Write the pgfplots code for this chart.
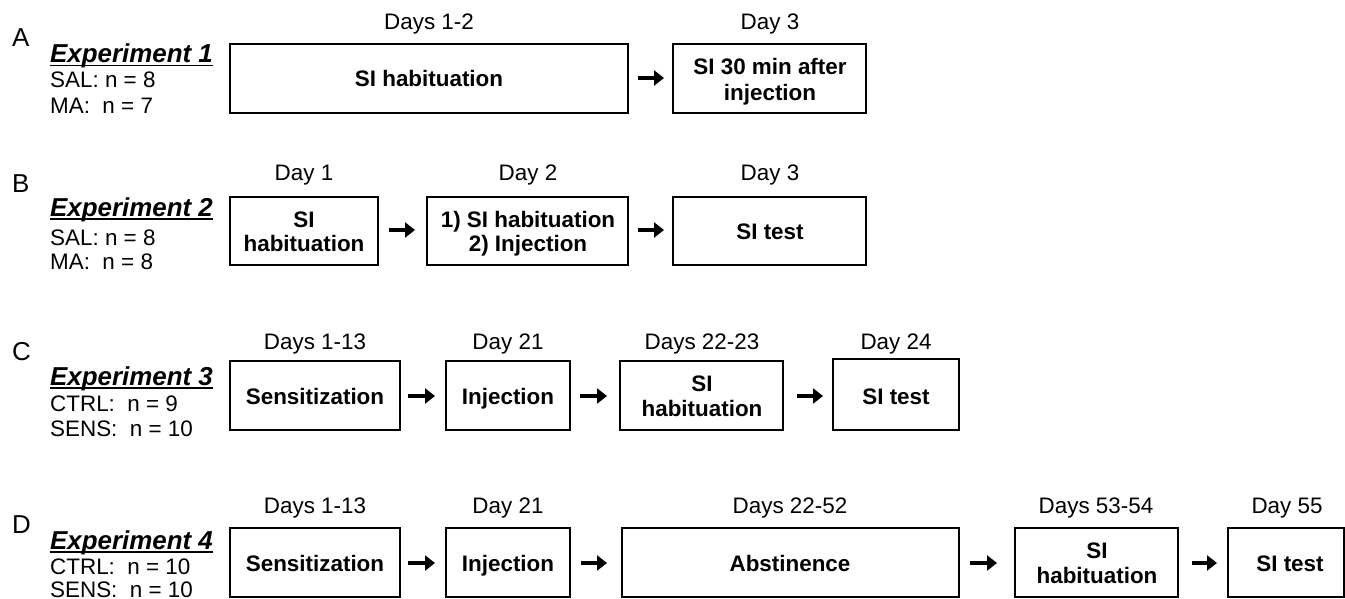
\documentclass[border=0pt]{standalone}
\usepackage{pgfplots}
\pgfplotsset{compat=1.18}
\usetikzlibrary{arrows.meta}
\usepackage{fontspec}
\setmainfont{Liberation Sans}
\newcommand\lab{\fontsize{22.5}{27}\selectfont}
\newcommand\bx{\fontsize{22.5}{27}\selectfont\bfseries}
\newcommand\hd{\fontsize{26}{30}\selectfont\bfseries\itshape}
\newcommand\ltr{\fontsize{26}{30}\selectfont}
\newcommand\ul[1]{\leavevmode\setbox0\hbox{#1}\rlap{\rule[-3.5bp]{\wd0}{1.8bp}}\box0}
\begin{document}
\begin{tikzpicture}
\begin{axis}[width=1345bp,height=599bp,scale only axis,
  xmin=0,xmax=1345,ymin=0,ymax=599,y dir=reverse,
  axis lines=none,clip=false,
  box/.style={black,line width=1.6bp,no marks},
  arr/.style={black,line width=3.6bp,no marks,-{Triangle[length=10bp,width=15bp]}}]
% ---------- Row A
\addplot[box] coordinates {(230,44)(628,44)(628,113)(230,113)} -- cycle;
\addplot[box] coordinates {(673,44)(866,44)(866,113)(673,113)} -- cycle;
\addplot[arr] coordinates {(638,78)(664,78)};
% ---------- Row B
\addplot[box] coordinates {(230,197)(378,197)(378,265)(230,265)} -- cycle;
\addplot[box] coordinates {(427,197)(628,197)(628,265)(427,265)} -- cycle;
\addplot[box] coordinates {(673,197)(866,197)(866,265)(673,265)} -- cycle;
\addplot[arr] coordinates {(389,230)(415,230)};
\addplot[arr] coordinates {(638,230)(664,230)};
% ---------- Row C
\addplot[box] coordinates {(230,361)(400,361)(400,430)(230,430)} -- cycle;
\addplot[box] coordinates {(446,361)(570,361)(570,430)(446,430)} -- cycle;
\addplot[box] coordinates {(620,361)(783,361)(783,430)(620,430)} -- cycle;
\addplot[box] coordinates {(833,359)(959,359)(959,430)(833,430)} -- cycle;
\addplot[arr] coordinates {(408,396)(435,396)};
\addplot[arr] coordinates {(580,396)(607,396)};
\addplot[arr] coordinates {(797,396)(823,396)};
% ---------- Row D
\addplot[box] coordinates {(230,528)(400,528)(400,597)(230,597)} -- cycle;
\addplot[box] coordinates {(446,528)(570,528)(570,597)(446,597)} -- cycle;
\addplot[box] coordinates {(622,528)(959,528)(959,597)(622,597)} -- cycle;
\addplot[box] coordinates {(1015,528)(1178,528)(1178,597)(1015,597)} -- cycle;
\addplot[box] coordinates {(1228,528)(1344,528)(1344,597)(1228,597)} -- cycle;
\addplot[arr] coordinates {(408,563)(435,563)};
\addplot[arr] coordinates {(581,563)(607,563)};
\addplot[arr] coordinates {(970,563)(997,563)};
\addplot[arr] coordinates {(1192,563)(1217,563)};
% ---------- left texts
\node[anchor=base west,inner sep=0] at (12,47) {\ltr A};
\node[anchor=base west,inner sep=0] at (50,63) {\hd\ul{Experiment 1}};
\node[anchor=base west,inner sep=0] at (50,88) {\lab SAL: n = 8};
\node[anchor=base west,inner sep=0] at (50,113) {\lab MA:\ \ n = 7};
\node[anchor=base west,inner sep=0] at (12,192) {\ltr B};
\node[anchor=base west,inner sep=0] at (50,216) {\hd\ul{Experiment 2}};
\node[anchor=base west,inner sep=0] at (50,245) {\lab SAL: n = 8};
\node[anchor=base west,inner sep=0] at (50,269) {\lab MA:\ \ n = 8};
\node[anchor=base west,inner sep=0] at (12,360) {\ltr C};
\node[anchor=base west,inner sep=0] at (50,385) {\hd\ul{Experiment 3}};
\node[anchor=base west,inner sep=0] at (50,411) {\lab CTRL:\ \ n = 9};
\node[anchor=base west,inner sep=0] at (50,436) {\lab SENS:\ \ n = 10};
\node[anchor=base west,inner sep=0] at (12,533) {\ltr D};
\node[anchor=base west,inner sep=0] at (50,549) {\hd\ul{Experiment 4}};
\node[anchor=base west,inner sep=0] at (50,574) {\lab CTRL:\ \ n = 10};
\node[anchor=base west,inner sep=0] at (50,597) {\lab SENS:\ \ n = 10};
% ---------- day labels
\node[anchor=base,inner sep=0] at (429,30) {\lab Days 1-2};
\node[anchor=base,inner sep=0] at (770,30) {\lab Day 3};
\node[anchor=base,inner sep=0] at (304,180) {\lab Day 1};
\node[anchor=base,inner sep=0] at (528,180) {\lab Day 2};
\node[anchor=base,inner sep=0] at (770,180) {\lab Day 3};
\node[anchor=base,inner sep=0] at (315,349) {\lab Days 1-13};
\node[anchor=base,inner sep=0] at (508,349) {\lab Day 21};
\node[anchor=base,inner sep=0] at (702,349) {\lab Days 22-23};
\node[anchor=base,inner sep=0] at (896,349) {\lab Day 24};
\node[anchor=base,inner sep=0] at (315,513) {\lab Days 1-13};
\node[anchor=base,inner sep=0] at (508,513) {\lab Day 21};
\node[anchor=base,inner sep=0] at (790,513) {\lab Days 22-52};
\node[anchor=base,inner sep=0] at (1096,513) {\lab Days 53-54};
\node[anchor=base,inner sep=0] at (1287,513) {\lab Day 55};
% ---------- box texts
\node[anchor=base,inner sep=0] at (429,87) {\bx SI habituation};
\node[anchor=base,inner sep=0] at (770,75) {\bx SI 30 min after};
\node[anchor=base,inner sep=0] at (770,100) {\bx injection};
\node[anchor=base,inner sep=0] at (304,227) {\bx SI};
\node[anchor=base,inner sep=0] at (304,251) {\bx habituation};
\node[anchor=base,inner sep=0] at (528,227) {\bx 1) SI habituation};
\node[anchor=base,inner sep=0] at (528,251) {\bx 2) Injection};
\node[anchor=base,inner sep=0] at (770,239) {\bx SI test};
\node[anchor=base,inner sep=0] at (315,404) {\bx Sensitization};
\node[anchor=base,inner sep=0] at (508,404) {\bx Injection};
\node[anchor=base,inner sep=0] at (702,391) {\bx SI};
\node[anchor=base,inner sep=0] at (702,416) {\bx habituation};
\node[anchor=base,inner sep=0] at (896,404) {\bx SI test};
\node[anchor=base,inner sep=0] at (315,571) {\bx Sensitization};
\node[anchor=base,inner sep=0] at (508,571) {\bx Injection};
\node[anchor=base,inner sep=0] at (790,571) {\bx Abstinence};
\node[anchor=base,inner sep=0] at (1097,558) {\bx SI};
\node[anchor=base,inner sep=0] at (1097,583) {\bx habituation};
\node[anchor=base,inner sep=0] at (1290,571) {\bx SI test};
\end{axis}
\pgfresetboundingbox
\path (0,0) rectangle (1345bp,599bp);
\end{tikzpicture}
\end{document}
